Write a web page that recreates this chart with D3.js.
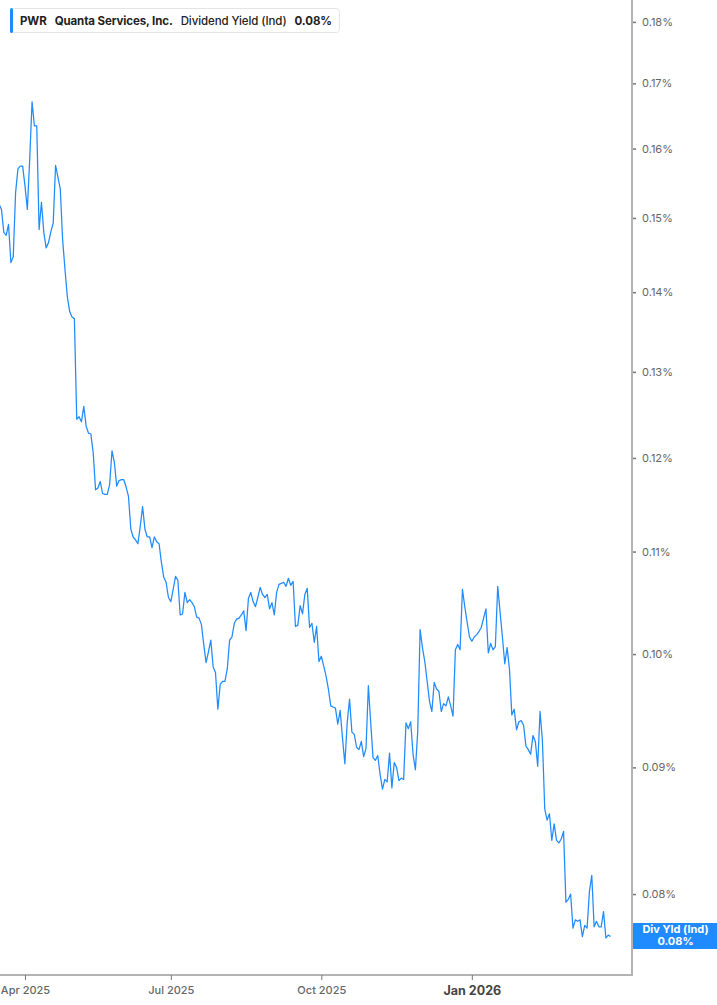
<!DOCTYPE html>
<html>
<head>
<meta charset="utf-8">
<script src="https://cdn.jsdelivr.net/npm/d3@7/dist/d3.min.js"></script>
<style>
html,body{margin:0;padding:0;background:#fff;}
svg{display:block;font-family:Inter,"Noto Sans",sans-serif;}
</style>
</head>
<body>
<svg id="chart" width="717" height="1005"></svg>
<script>
// ---- data ----
const ticker = "PWR";
const company = "Quanta Services, Inc.";
const metric = "Dividend Yield (Ind)";
const shortMetric = "Div Yld (Ind)";
const startDate = "2025-03-17";
const holidays = ["2025-04-18","2025-05-26","2025-06-19","2025-07-04","2025-09-01",
  "2025-11-27","2025-12-25","2026-01-01","2026-01-19","2026-02-16"];
// dividend yield (%) per trading day from startDate
const values = [
0.1519,0.1512,0.1480,0.1476,0.1491,0.1439,0.1447,0.1536,0.1570,0.1574,0.1574,
0.1545,0.1512,0.1584,0.1671,0.1634,0.1634,0.1484,0.1522,0.1480,0.1459,0.1466,0.1481,0.1493,0.1575,0.1558,0.1541,0.1470,0.1430,0.1394,0.1375,0.1368,
0.1366,0.1244,0.1247,0.1241,0.1259,0.1236,0.1228,0.1227,0.1206,0.1165,0.1167,0.1174,0.1161,0.1160,0.1160,0.1171,0.1208,0.1195,0.1169,0.1175,
0.1176,0.1176,0.1168,0.1158,0.1123,0.1115,0.1112,0.1108,0.1126,0.1147,0.1123,0.1115,0.1115,0.1104,0.1115,0.1110,0.1108,0.1089,0.1074,0.1069,
0.1054,0.1050,0.1062,0.1075,0.1071,0.1037,0.1038,0.1059,0.1049,0.1052,0.1049,0.1045,0.1035,0.1034,0.1028,0.1009,0.0992,0.1002,0.1013,0.0988,
0.0983,0.0950,0.0972,0.0975,0.0975,0.0986,0.1013,0.1016,0.1029,0.1033,0.1034,0.1037,0.1041,0.1022,0.1053,0.1059,0.1050,0.1045,0.1054,0.1064,
0.1057,0.1054,0.1057,0.1043,0.1049,0.1037,0.1059,0.1067,0.1068,0.1069,0.1065,0.1073,0.1066,0.1070,0.1026,0.1027,0.1046,0.1038,0.1057,0.1063,
0.1025,0.1029,0.1011,0.1026,0.0993,0.0998,0.0989,0.0980,0.0968,0.0953,0.0952,0.0951,0.0937,0.0949,0.0925,0.0903,0.0938,0.0959,0.0930,0.0928,
0.0917,0.0915,0.0922,0.0909,0.0916,0.0971,0.0938,0.0908,0.0906,0.0910,0.0894,0.0882,0.0890,0.0888,0.0912,0.0883,0.0904,0.0900,0.0889,0.0891,
0.0890,0.0938,0.0933,0.0939,0.0911,0.0898,0.0931,0.1023,0.1006,0.0993,0.0975,0.0957,0.0948,0.0974,0.0968,0.0966,0.0948,0.0955,0.0953,0.0961,
0.0953,0.0944,0.1004,0.1009,0.1004,0.1062,0.1045,0.1030,0.1016,0.1012,0.1016,0.1018,0.1021,0.1025,0.1034,0.1043,0.1001,0.1010,0.1004,0.1007,
0.1065,0.1040,0.1016,0.0991,0.1006,0.0986,0.0945,0.0950,0.0932,0.0939,0.0940,0.0936,0.0918,0.0915,0.0911,0.0927,0.0922,0.0901,0.0948,0.0923,
0.0866,0.0857,0.0862,0.0841,0.0854,0.0841,0.0839,0.0842,0.0848,0.0794,0.0796,0.0800,0.0775,0.0781,0.0780,0.0781,0.0769,0.0777,0.0775,0.0802,
0.0814,0.0776,0.0780,0.0776,0.0776,0.0787,0.0768,0.0770,0.0769
];
const yTicks = [0.08,0.09,0.10,0.11,0.12,0.13,0.14,0.15,0.16,0.17,0.18];
const xTickMonths = ["2025-04","2025-07","2025-10","2026-01"];
const xTickLabels = ["Apr 2025","Jul 2025","Oct 2025","Jan 2026"];
const lastLabel = "0.08%";

// ---- trading calendar ----
const parse = d3.utcParse("%Y-%m-%d");
const fmt = d3.utcFormat("%Y-%m-%d");
const hol = new Set(holidays);
const dates = [];
let d = parse(startDate);
while (dates.length < values.length) {
  const wd = d.getUTCDay();
  if (wd !== 0 && wd !== 6 && !hol.has(fmt(d))) dates.push(new Date(d));
  d = d3.utcDay.offset(d, 1);
}
const data = values.map((v, i) => ({i, date: dates[i], v}));

// ---- layout ----
const W = 717, H = 1005;
const plotR = 632, plotB = 975;
const svg = d3.select("#chart");

const x = d3.scaleLinear().domain([0.37, 269.1]).range([0, plotR]);
const y = d3.scaleLog().domain([0.0742, 0.1837]).range([plotB, 0]);

svg.append("defs").append("clipPath").attr("id","clip")
  .append("rect").attr("x",0).attr("y",0).attr("width",plotR).attr("height",plotB);

// line
const line = d3.line().x(p => x(p.i)).y(p => y(p.v));
svg.append("path").datum(data)
  .attr("clip-path","url(#clip)")
  .attr("fill","none").attr("stroke","#1f8bff").attr("stroke-width",1.25)
  .attr("stroke-linejoin","round")
  .attr("d", line);

// frame
svg.append("line").attr("x1",plotR).attr("x2",plotR).attr("y1",0).attr("y2",plotB+0.5)
  .attr("stroke","#b3b3b3").attr("stroke-width",2);
svg.append("line").attr("x1",0).attr("x2",plotR+1).attr("y1",plotB).attr("y2",plotB)
  .attr("stroke","#b3b3b3").attr("stroke-width",2);

// y axis
const yAxis = d3.axisRight(y).tickValues(yTicks).tickSize(3).tickPadding(6)
  .tickFormat(v => v.toFixed(2) + "%");
const gy = svg.append("g").attr("transform", `translate(${plotR+1},0)`).call(yAxis);
gy.select(".domain").remove();
gy.selectAll(".tick line").attr("stroke","#777").attr("stroke-width",1.5);
gy.selectAll(".tick text").attr("fill","#666").style("font-size","11px")
  .style("font-family","Inter, sans-serif");

// x axis
const tickIdx = xTickMonths.map(m => data.find(p => fmt(p.date).startsWith(m)).i);
const xAxis = d3.axisBottom(x).tickValues(tickIdx).tickSize(5).tickPadding(4)
  .tickFormat((v, k) => xTickLabels[k]);
const gx = svg.append("g").attr("transform", `translate(0,${plotB})`).call(xAxis);
gx.select(".domain").remove();
gx.selectAll(".tick line").attr("stroke","#777");
gx.selectAll(".tick text").style("font-family","Inter, sans-serif").attr("dy","0.9em")
  .style("font-weight",(v,k) => xTickLabels[k].startsWith("Jan") ? "700" : "500")
  .attr("fill",(v,k) => xTickLabels[k].startsWith("Jan") ? "#444" : "#666")
  .style("font-size",(v,k) => xTickLabels[k].startsWith("Jan") ? "12.5px" : "11px");

// last-value badge
const by = 936;
const badge = svg.append("g");
badge.append("rect").attr("x",plotR+1).attr("y",by-13).attr("width",W-plotR-1).attr("height",26)
  .attr("fill","#1f8bff");
badge.append("text").attr("x",(plotR+W)/2+1).attr("y",by-3).attr("text-anchor","middle")
  .attr("fill","#fff").style("font-size","11px").style("font-weight","700").text(shortMetric);
badge.append("text").attr("x",(plotR+W)/2+1).attr("y",by+9).attr("text-anchor","middle")
  .attr("fill","#fff").style("font-size","11px").style("font-weight","700").text(lastLabel);

// legend
const lg = svg.append("g");
const box = lg.append("rect").attr("x",10.5).attr("y",8.5).attr("height",24).attr("rx",3)
  .attr("fill","#fff").attr("stroke","#e4e4e4");
lg.append("rect").attr("x",10).attr("y",8).attr("width",3).attr("height",25).attr("rx",1.5)
  .attr("fill","#1f8bff");
const parts = [
  {t: ticker, w: 700, gap: 8},
  {t: company, w: 700, gap: 8},
  {t: metric, w: 500, gap: 8},
  {t: lastLabel, w: 700, gap: 0}
];
let cx = 20;
parts.forEach(p => {
  const t = lg.append("text").attr("x",cx).attr("y",25).attr("fill","#222")
    .style("font-size","11.5px").style("font-weight",p.w).style("letter-spacing","-0.1px").text(p.t);
  cx += t.node().getComputedTextLength() + p.gap;
});
box.attr("width", cx - 10 + 7);
</script>
</body>
</html>
